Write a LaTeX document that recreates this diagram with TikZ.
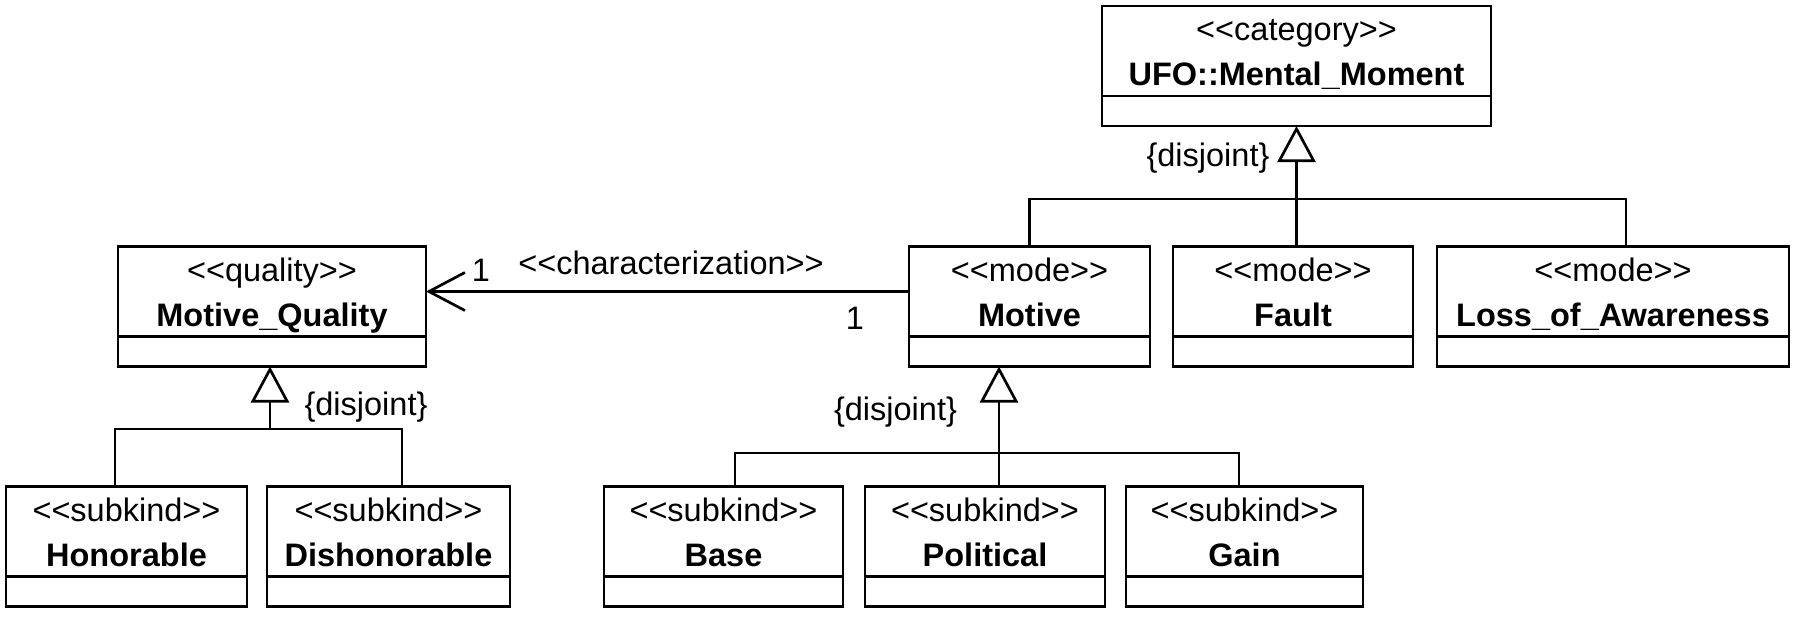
\documentclass[tikz,border=0pt]{standalone}
\usepackage{fontspec}
\setmainfont{Liberation Sans}
\usetikzlibrary{arrows.meta, positioning}
\newcommand{\stereo}[1]{<\kern0pt<#1>\kern0pt>}
\newcommand{\clstext}[2]{\rule{0pt}{33pt}\stereo{#1}\\\rule[-9pt]{0pt}{9pt}\textbf{#2}}

\begin{document}
\begin{tikzpicture}[x=1pt, y=-1pt, line width=2.7pt,
    every node/.style={font=\fontsize{32.5}{45}\selectfont},
    cls/.style={draw, anchor=north, outer sep=0pt, inner sep=0pt,
                minimum height=90pt, align=center},
    foot/.style={draw, anchor=north, outer sep=0pt, minimum height=30pt},
    gen/.style={-{Triangle[open, length=36pt, width=38pt]}},
    assoc/.style={-{Straight Barb[length=36pt, width=38pt]}}]
  \useasboundingbox (0,0) rectangle (1800,618);
  % classes
  \node[cls, minimum width=389pt] (mental) at (1296.5,6) {\clstext{category}{UFO::Mental\_Moment}};
  \node[cls, minimum width=308pt] (quality) at (272,246.5) {\clstext{quality}{Motive\_Quality}};
  \node[cls, minimum width=241pt] (motive) at (1029.5,246.5) {\clstext{mode}{Motive}};
  \node[cls, minimum width=240pt] (fault) at (1293,246.5) {\clstext{mode}{Fault}};
  \node[cls, minimum width=352pt] (loss) at (1613,246.5) {\clstext{mode}{Loss\_of\_Awareness}};
  \node[cls, minimum width=241pt] (honorable) at (126.5,486.5) {\clstext{subkind}{Honorable}};
  \node[cls, minimum width=243pt] (dishonorable) at (388.5,486.5) {\clstext{subkind}{Dishonorable}};
  \node[cls, minimum width=239pt] (base) at (723.5,486.5) {\clstext{subkind}{Base}};
  \node[cls, minimum width=240pt] (political) at (985,486.5) {\clstext{subkind}{Political}};
  \node[cls, minimum width=237pt] (gain) at (1244.5,486.5) {\clstext{subkind}{Gain}};
  \foreach \n/\w in {mental/389, quality/308, motive/241, fault/240, loss/352,
      honorable/241, dishonorable/243, base/239, political/240, gain/237}
    \node[foot, minimum width=\w pt] (\n-f) at (\n.south) {};

  % generalization sets
  \coordinate (mental-j) at (1296.5,199);
  \draw[gen] (mental-j) -- (mental-f.south);
  \draw (motive.north) |- (mental-j);
  \draw ([xshift=3.5pt]fault.north) -- (mental-j);
  \draw ([xshift=13pt]loss.north) |- (mental-j);
  \node (dj-mental) at (1208,158.5) {\{disjoint\}};

  \coordinate (quality-j) at (270,429);
  \draw[gen] (quality-j) -- ([xshift=-2pt]quality-f.south);
  \draw ([xshift=-11.5pt]honorable.north) |- (quality-j);
  \draw ([xshift=13.5pt]dishonorable.north) |- (quality-j);
  \node (dj-quality) at (366,407) {\{disjoint\}};

  \coordinate (motive-j) at (999,453);
  \draw[gen] (motive-j) -- ([xshift=-30.5pt]motive-f.south);
  \draw ([xshift=11.5pt]base.north) |- (motive-j);
  \draw ([xshift=14pt]political.north) -- (motive-j);
  \draw ([xshift=-5.5pt]gain.north) |- (motive-j);
  \node (dj-motive) at (895.5,412.5) {\{disjoint\}};

  % characterization
  \draw[assoc] (motive.west) -- (quality.east);
  \node (one-a) at (481,270) {1};
  \node (char) at (671,263) {\stereo{characterization}};
  \node (one-b) at (855,318) {1};
\end{tikzpicture}
\end{document}
